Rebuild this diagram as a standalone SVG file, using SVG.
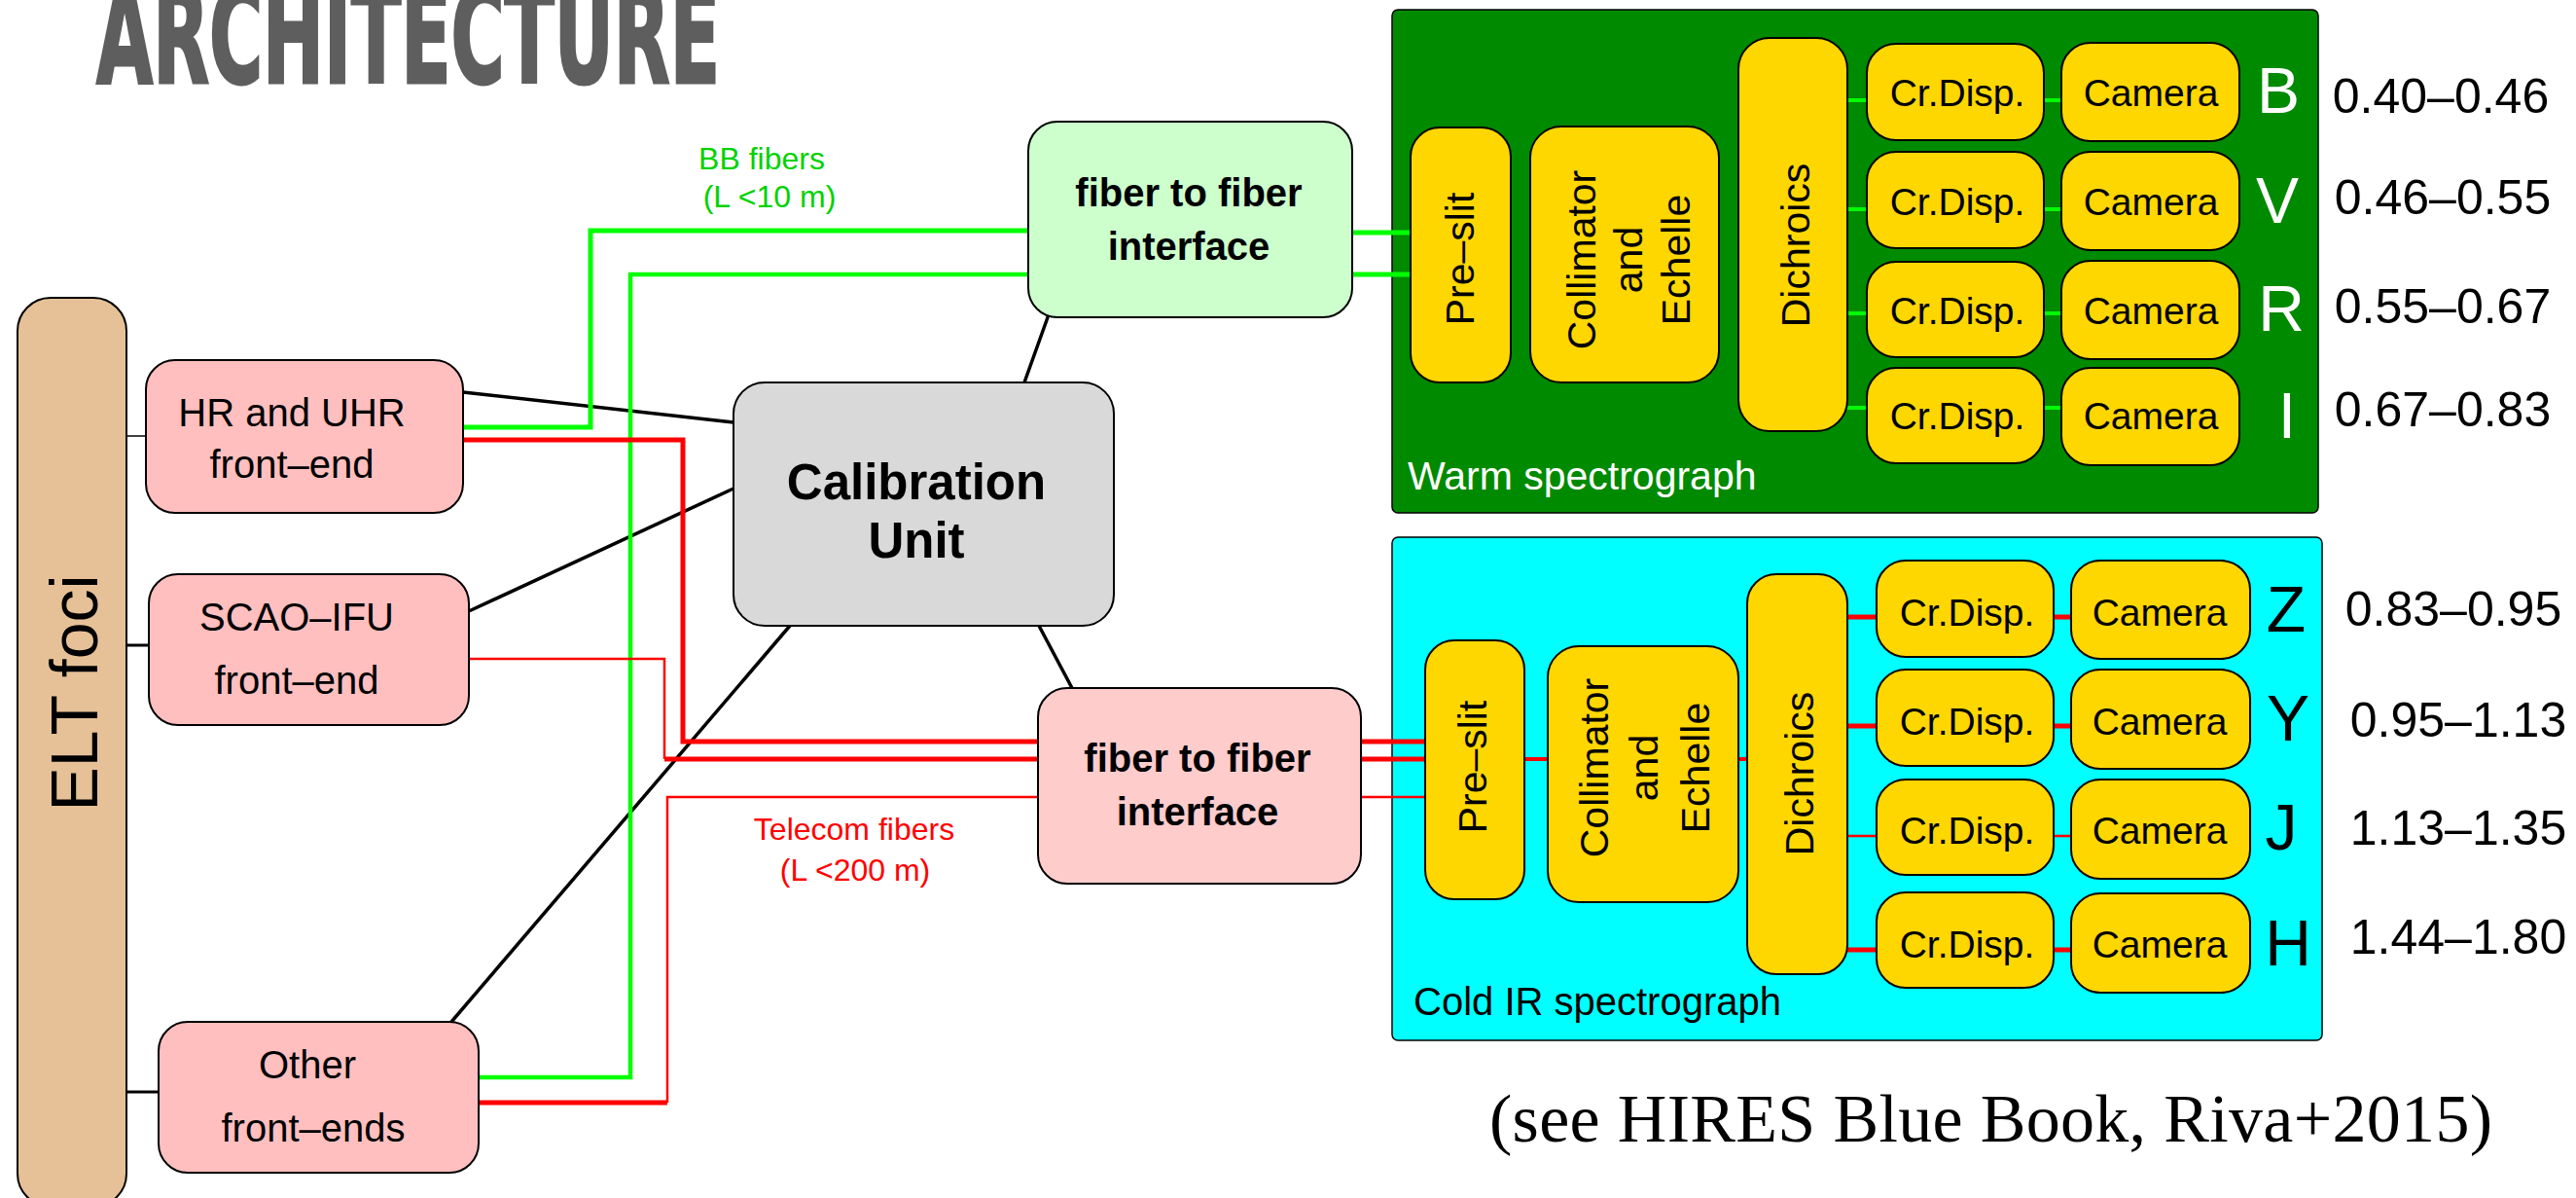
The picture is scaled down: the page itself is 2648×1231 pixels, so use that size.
<svg xmlns="http://www.w3.org/2000/svg" width="2648" height="1231" viewBox="0 0 2648 1231">
<style>
  text { font-family: "Liberation Sans", Arial, Helvetica, sans-serif; fill: #000; }
  .box { stroke: #000; stroke-width: 2; }
  .fe { fill: #ffbfbf; }
  .gold { fill: #ffd700; }
  .lbl { font-size: 40px; text-anchor: middle; }
  .bold { font-weight: bold; }
  .vt { font-size: 41px; text-anchor: middle; }
  .cd { font-size: 39px; text-anchor: middle; }
  .band { font-size: 66px; text-anchor: middle; }
  .wl { font-size: 50px; text-anchor: middle; }
  .note { font-size: 32px; text-anchor: middle; }
  .link { stroke: #000; stroke-width: 3.5; stroke-linecap: round; fill: none; }
  .g { stroke: #00ff00; fill: none; stroke-linejoin: miter; }
  .r { stroke: #ff0000; fill: none; stroke-linejoin: miter; }
</style>

<rect x="0" y="0" width="2648" height="1231" fill="#ffffff"/>

<!-- heading -->
<text x="99" y="85" font-size="138" font-weight="bold" fill="#5e5e5e" stroke="#5e5e5e" stroke-width="3" textLength="641" lengthAdjust="spacingAndGlyphs" style="font-family:'Liberation Sans Narrow','DejaVu Sans Condensed','Liberation Sans',sans-serif;fill:#5e5e5e">ARCHITECTURE</text>

<!-- spectrograph enclosures (drawn below the fibre runs) -->
<g id="warm-spectrograph">
  <rect x="1431" y="10" width="952" height="517" rx="6" fill="#008a00" stroke="#000" stroke-width="1.5"/>
  <text x="1447" y="503" font-size="41" style="fill:#ffffff">Warm spectrograph</text>
</g>
<g id="cold-spectrograph">
  <rect x="1431" y="552" width="956" height="517" rx="6" fill="#00ffff" stroke="#000" stroke-width="1.5"/>
  <text x="1453" y="1043" font-size="40">Cold IR spectrograph</text>
</g>

<g id="connectors">
  <!-- focus to front-end feeds -->
  <line x1="130" y1="448" x2="150" y2="448" stroke="#000" stroke-width="1.5"/>
  <line x1="130" y1="663" x2="153" y2="663" stroke="#000" stroke-width="3"/>
  <line x1="130" y1="1122" x2="163" y2="1122" stroke="#000" stroke-width="3"/>
  <!-- calibration links -->
  <line class="link" x1="476" y1="403" x2="754" y2="434"/>
  <line class="link" x1="482" y1="628" x2="754" y2="502"/>
  <line class="link" x1="812" y1="643" x2="464" y2="1050"/>
  <line class="link" x1="1053" y1="393" x2="1077" y2="326"/>
  <line class="link" x1="1068" y1="643" x2="1102" y2="707"/>
  <!-- BB fibres -->
  <path class="g" stroke-width="5" d="M476,439 H607 V237 H1057"/>
  <path class="g" stroke-width="4.5" d="M492,1107 H648 V282 H1057"/>
  <path class="g" stroke-width="5" d="M1390,239 H1450 M1390,282 H1450"/>
  <!-- telecom fibres -->
  <path class="r" stroke-width="5" d="M476,452 H702 V762 H1067"/>
  <path class="r" stroke-width="2.5" d="M482,677 H683 V780"/>
  <path class="r" stroke-width="5" d="M683,780 H1067"/>
  <path class="r" stroke-width="5" d="M492,1133 H686"/>
  <path class="r" stroke-width="2.5" d="M686,1133 V819 H1067"/>
  <path class="r" stroke-width="5" d="M1399,762 H1465 M1399,780 H1465"/>
  <path class="r" stroke-width="2.5" d="M1399,819 H1465"/>
  <!-- warm internal beams -->
  <path class="g" stroke-width="4" d="M1899,103 H1919 M2101,103 H2119 M1899,215 H1919 M2101,215 H2119 M1899,322 H1919 M2101,322 H2119 M1899,419 H1919 M2101,419 H2119"/>
  <!-- cold internal beams -->
  <path class="r" stroke-width="4" d="M1567,780 H1591 M1787,780 H1796"/>
  <path class="r" stroke-width="5" d="M1899,634 H1929 M2111,634 H2129 M1899,746 H1929 M2111,746 H2129 M1899,976 H1929 M2111,976 H2129"/>
  <path class="r" stroke-width="2.5" d="M1899,859 H1929 M2111,859 H2129"/>
  <!-- fibre labels -->
  <text class="note" x="783" y="174" style="fill:#00d200">BB fibers</text>
  <text class="note" x="791" y="213" style="fill:#00d200">(L &lt;10 m)</text>
  <text class="note" x="878" y="863" style="fill:#ff0000">Telecom fibers</text>
  <text class="note" x="879" y="905" style="fill:#ff0000">(L &lt;200 m)</text>
</g>

<g id="elt-foci">
  <rect class="box" x="18" y="306" width="112" height="934" rx="34" fill="#e6c197"/>
  <text transform="translate(100,712) rotate(-90)" font-size="68" text-anchor="middle">ELT foci</text>
</g>

<g id="hr-uhr-front-end">
  <rect class="box fe" x="150" y="370" width="326" height="157" rx="30"/>
  <text class="lbl" x="300" y="438">HR and UHR</text>
  <text class="lbl" x="300" y="491">front–end</text>
</g>
<g id="scao-ifu-front-end">
  <rect class="box fe" x="153" y="590" width="329" height="155" rx="30"/>
  <text class="lbl" x="305" y="648">SCAO–IFU</text>
  <text class="lbl" x="305" y="713">front–end</text>
</g>
<g id="other-front-ends">
  <rect class="box fe" x="163" y="1050" width="329" height="155" rx="30"/>
  <text class="lbl" x="316" y="1108">Other</text>
  <text class="lbl" x="322" y="1173">front–ends</text>
</g>

<g id="calibration-unit">
  <rect class="box" x="754" y="393" width="391" height="250" rx="32" fill="#d9d9d9"/>
  <text class="bold" x="942" y="513" font-size="51" text-anchor="middle">Calibration</text>
  <text class="bold" x="942" y="573" font-size="51" text-anchor="middle">Unit</text>
</g>

<g id="bb-fiber-interface">
  <rect class="box" x="1057" y="125" width="333" height="201" rx="30" fill="#ccffcc"/>
  <text class="lbl bold" x="1222" y="212">fiber to fiber</text>
  <text class="lbl bold" x="1222" y="267">interface</text>
</g>
<g id="telecom-fiber-interface">
  <rect class="box" x="1067" y="707" width="332" height="201" rx="30" fill="#ffcccc"/>
  <text class="lbl bold" x="1231" y="793">fiber to fiber</text>
  <text class="lbl bold" x="1231" y="848">interface</text>
</g>

<!-- warm arm optics -->
<g id="warm-preslit">
  <rect class="box gold" x="1450" y="131" width="103" height="262" rx="30"/>
  <text class="vt" transform="translate(1515,266) rotate(-90)">Pre–slit</text>
</g>
<g id="warm-collimator">
  <rect class="box gold" x="1573" y="130" width="194" height="263" rx="32"/>
  <text class="vt" transform="translate(1640,267) rotate(-90)">Collimator</text>
  <text class="vt" transform="translate(1688,267) rotate(-90)">and</text>
  <text class="vt" transform="translate(1737,267) rotate(-90)">Echelle</text>
</g>
<g id="warm-dichroics">
  <rect class="box gold" x="1787" y="39" width="112" height="404" rx="32"/>
  <text class="vt" transform="translate(1860,252) rotate(-90)">Dichroics</text>
</g>
<g id="warm-b">
  <rect class="box gold" x="1919" y="45" width="182" height="99" rx="30"/>
  <text class="cd" x="2012" y="109">Cr.Disp.</text>
  <rect class="box gold" x="2119" y="44" width="183" height="101" rx="30"/>
  <text class="cd" x="2211" y="109">Camera</text>
  <text class="band" x="2342" y="116" style="fill:#ffffff">B</text>
  <text class="wl" x="2509" y="116">0.40–0.46</text>
</g>
<g id="warm-v">
  <rect class="box gold" x="1919" y="156" width="182" height="99" rx="30"/>
  <text class="cd" x="2012" y="221">Cr.Disp.</text>
  <rect class="box gold" x="2119" y="156" width="183" height="101" rx="30"/>
  <text class="cd" x="2211" y="221">Camera</text>
  <text class="band" x="2341" y="229" style="fill:#ffffff">V</text>
  <text class="wl" x="2511" y="220">0.46–0.55</text>
</g>
<g id="warm-r">
  <rect class="box gold" x="1919" y="269" width="182" height="98" rx="30"/>
  <text class="cd" x="2012" y="333">Cr.Disp.</text>
  <rect class="box gold" x="2119" y="268" width="183" height="101" rx="30"/>
  <text class="cd" x="2211" y="333">Camera</text>
  <text class="band" x="2345" y="340" style="fill:#ffffff">R</text>
  <text class="wl" x="2511" y="332">0.55–0.67</text>
</g>
<g id="warm-i">
  <rect class="box gold" x="1919" y="378" width="182" height="98" rx="30"/>
  <text class="cd" x="2012" y="441">Cr.Disp.</text>
  <rect class="box gold" x="2119" y="378" width="183" height="100" rx="30"/>
  <text class="cd" x="2211" y="441">Camera</text>
  <text class="band" x="2351" y="450" style="fill:#ffffff">I</text>
  <text class="wl" x="2511" y="438">0.67–0.83</text>
</g>

<!-- cold arm optics -->
<g id="cold-preslit">
  <rect class="box gold" x="1465" y="658" width="102" height="266" rx="30"/>
  <text class="vt" transform="translate(1528,788) rotate(-90)">Pre–slit</text>
</g>
<g id="cold-collimator">
  <rect class="box gold" x="1591" y="664" width="196" height="263" rx="32"/>
  <text class="vt" transform="translate(1653,789) rotate(-90)">Collimator</text>
  <text class="vt" transform="translate(1704,789) rotate(-90)">and</text>
  <text class="vt" transform="translate(1757,789) rotate(-90)">Echelle</text>
</g>
<g id="cold-dichroics">
  <rect class="box gold" x="1796" y="590" width="103" height="411" rx="30"/>
  <text class="vt" transform="translate(1864,795) rotate(-90)">Dichroics</text>
</g>
<g id="cold-z">
  <rect class="box gold" x="1929" y="576" width="182" height="99" rx="30"/>
  <text class="cd" x="2022" y="643">Cr.Disp.</text>
  <rect class="box gold" x="2129" y="576" width="184" height="101" rx="30"/>
  <text class="cd" x="2220" y="643">Camera</text>
  <text class="band" x="2350" y="649">Z</text>
  <text class="wl" x="2522" y="643">0.83–0.95</text>
</g>
<g id="cold-y">
  <rect class="box gold" x="1929" y="688" width="182" height="99" rx="30"/>
  <text class="cd" x="2022" y="755">Cr.Disp.</text>
  <rect class="box gold" x="2129" y="688" width="184" height="102" rx="30"/>
  <text class="cd" x="2220" y="755">Camera</text>
  <text class="band" x="2352" y="761">Y</text>
  <text class="wl" x="2527" y="757">0.95–1.13</text>
</g>
<g id="cold-j">
  <rect class="box gold" x="1929" y="801" width="182" height="98" rx="30"/>
  <text class="cd" x="2022" y="867">Cr.Disp.</text>
  <rect class="box gold" x="2129" y="801" width="184" height="102" rx="30"/>
  <text class="cd" x="2220" y="867">Camera</text>
  <text class="band" x="2345" y="873">J</text>
  <text class="wl" x="2527" y="868">1.13–1.35</text>
</g>
<g id="cold-h">
  <rect class="box gold" x="1929" y="917" width="182" height="98" rx="30"/>
  <text class="cd" x="2022" y="984">Cr.Disp.</text>
  <rect class="box gold" x="2129" y="918" width="184" height="102" rx="30"/>
  <text class="cd" x="2220" y="984">Camera</text>
  <text class="band" x="2352" y="992">H</text>
  <text class="wl" x="2527" y="980">1.44–1.80</text>
</g>

<!-- reference note -->
<text x="1531" y="1173" font-size="70" textLength="1031" style="font-family:'Liberation Serif','Times New Roman',serif">(see HIRES Blue Book, Riva+2015)</text>
</svg>
